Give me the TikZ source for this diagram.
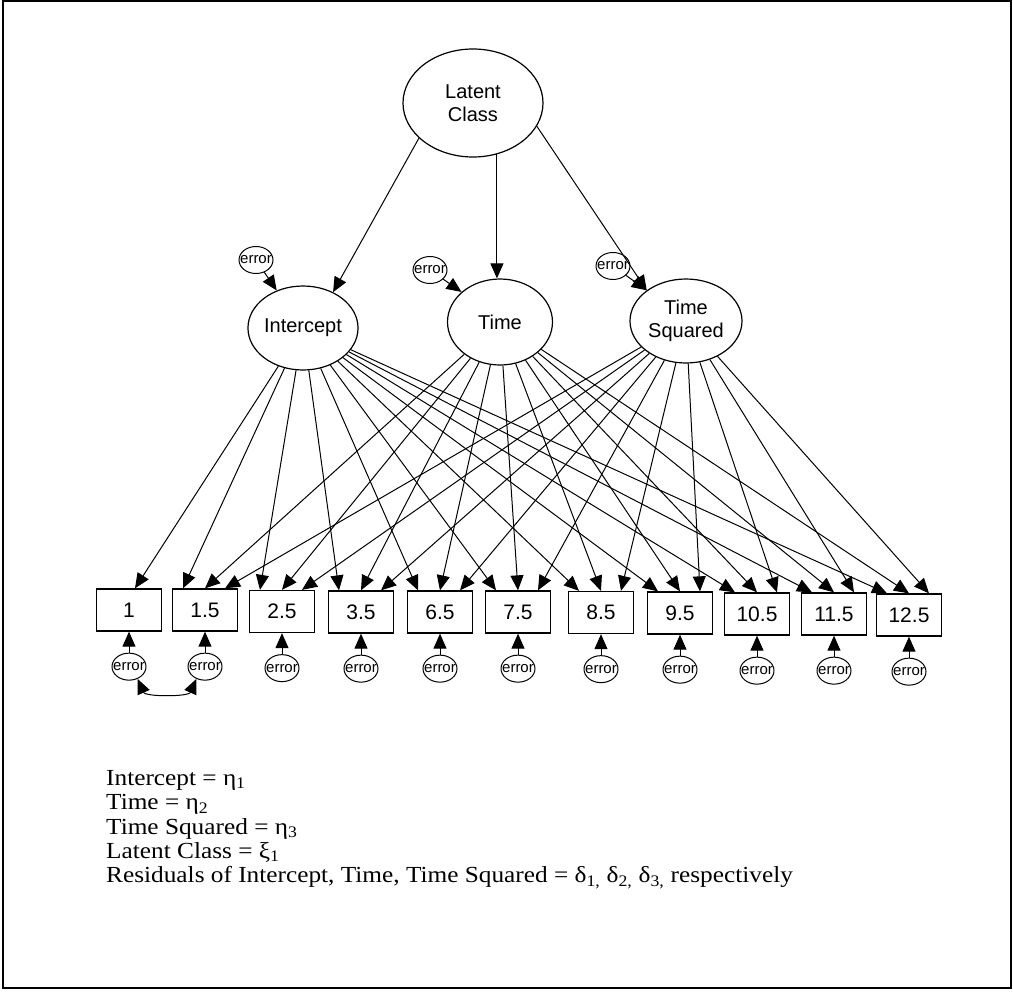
\documentclass[tikz,border=0pt]{standalone}
\usepackage{fontspec}
\setmainfont{Liberation Serif}
\setsansfont{Liberation Sans}
\newfontfamily\keyfont[FakeStretch=1.1]{Liberation Serif}
\usetikzlibrary{arrows.meta, positioning, shapes.geometric}
\tikzstyle{latent}=[ellipse, draw, line width=1.2pt, inner sep=0pt, align=center, font=\sffamily\fontsize{20}{23}\selectfont]
\tikzstyle{obs}=[rectangle, draw, line width=1.3pt, minimum width=65pt, minimum height=42pt, inner sep=0pt, font=\sffamily\fontsize{21}{23}\selectfont]
\tikzstyle{err}=[ellipse, draw, line width=1pt, minimum width=34pt, minimum height=27pt, inner sep=0pt, font=\sffamily\fontsize{15}{15}\selectfont, node contents={\makebox[0pt]{error}}]
\tikzstyle{arr}=[line width=1pt, -{Triangle[length=15pt, width=13pt]}]
\tikzstyle{dbl}=[line width=1pt, {Triangle[length=15pt, width=13pt]}-{Triangle[length=15pt, width=13pt]}]
\tikzstyle{key}=[anchor=base west, inner sep=0pt, font=\keyfont\fontsize{23}{23}\selectfont]

\begin{document}
\begin{tikzpicture}[x=1pt, y=-1pt]
  \useasboundingbox (0,0) rectangle (1013,994);
  \draw[line width=2.2pt] (3,1) rectangle (1011,988);

  % latent variables
  \node[latent, minimum width=140pt, minimum height=108pt] (lc) at (473,103) {Latent\\Class};
  \node[latent, minimum width=108pt, minimum height=84pt] (int) at (303,328) {Intercept};
  \node[latent, minimum width=105pt, minimum height=86pt] (tim) at (500,322) {Time};
  \node[latent, minimum width=112pt, minimum height=84pt] (tsq) at (686,321) {Time\\Squared};

  \node (eint) at (256,260) [err];
  \node (etim) at (430,270) [err];
  \node (etsq) at (613,266) [err];

  \draw[arr] (lc.213) -- (int.50);
  \draw[arr] (lc.-65) -- (lc.-65 |- tim.north);
  \draw[arr] (lc.340) -- (tsq.142);
  \draw[arr] (eint) -- (int.125);
  \draw[arr] (etim) -- (tim.142);
  \draw[arr] (etsq) -- (tsq.142);

  % observed measures
  \foreach \lab/\x/\y [count=\i] in {1/129/610, 1.5/205/610, 2.5/282/611.5, 3.5/361/612, 6.5/440/612, 7.5/518/612, 8.5/601/612.5, 9.5/680/613, 10.5/757/614, 11.5/834/614, 12.5/909/615}
  {
    \node[obs] (b\i) at (\x,\y) {\lab};
    \node (d\i) [err, below=21pt of b\i];
    \draw[arr] (d\i) -- (b\i);
  }

  \draw[arr] (int) -- ([xshift=6pt]b1.north);
  \foreach \i in {2,...,11}
  {
    \draw[arr] (int) -- ([xshift=-22pt]b\i.north);
    \draw[arr] (tim) -- (b\i.north);
    \draw[arr] (tsq) -- ([xshift=20pt]b\i.north);
  }
  \draw[dbl] (d1.-55) .. controls +(8,18) and +(-8,18) .. (d2.-125);

  % key
  \node[key] (k1) at (106,785) {Intercept = η\textsubscript{1}};
  \node[key] (k2) at (106,809.5) {Time = η\textsubscript{2}};
  \node[key] (k3) at (106,834) {Time Squared = η\textsubscript{3}};
  \node[key] (k4) at (106,858) {Latent Class = ξ\textsubscript{1}};
  \node[key] (k5) at (106,882.5) {Residuals of Intercept, Time, Time Squared = δ\textsubscript{1,} δ\textsubscript{2,} δ\textsubscript{3,} respectively};
\end{tikzpicture}
\end{document}
